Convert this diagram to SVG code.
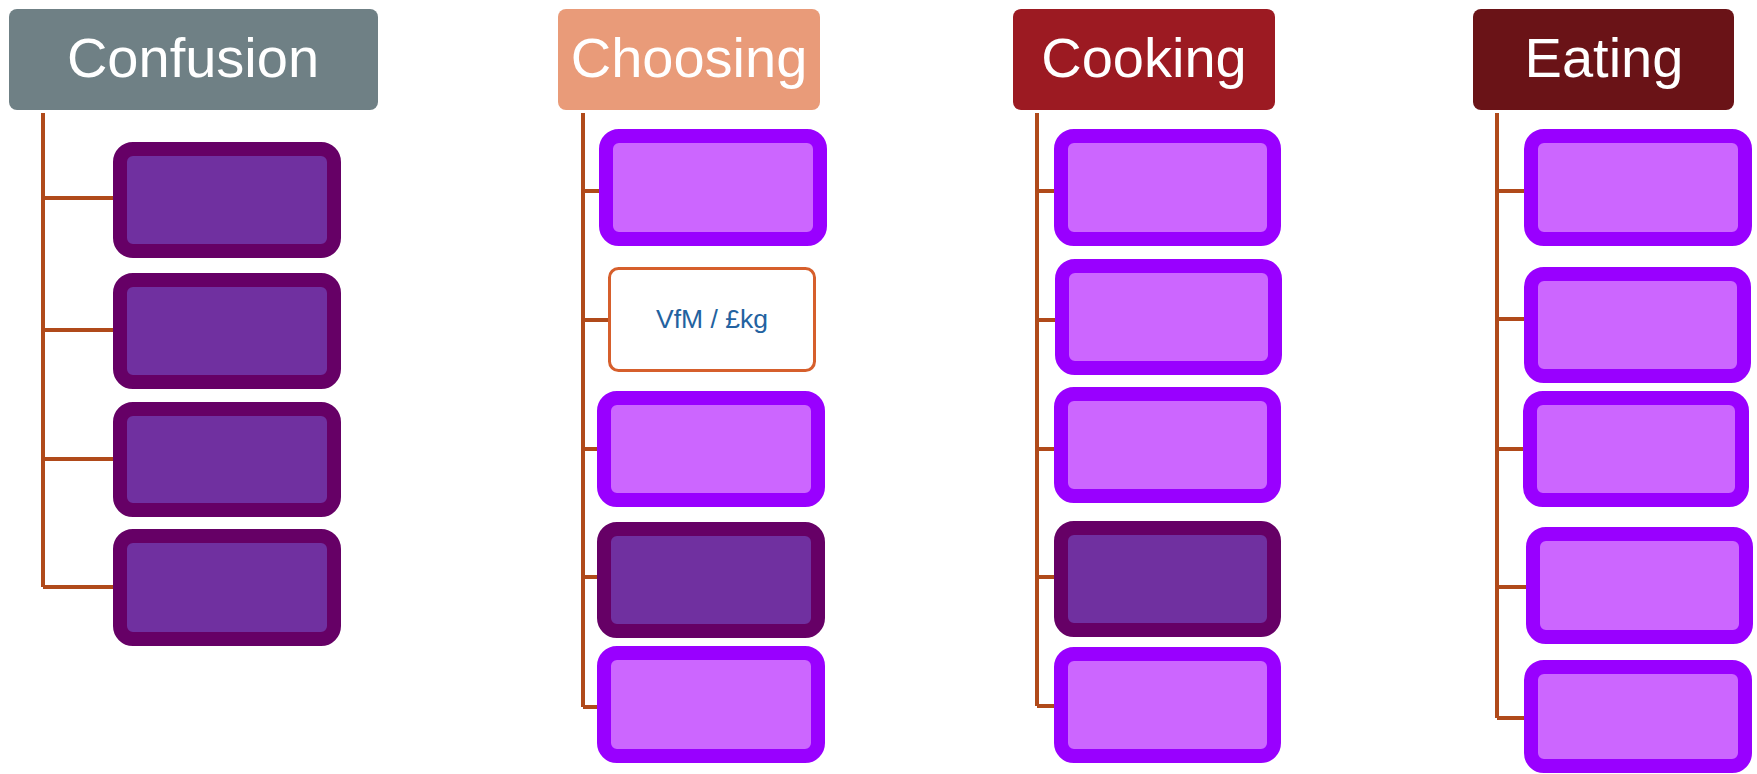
<svg xmlns="http://www.w3.org/2000/svg" width="1757" height="774" viewBox="0 0 1757 774">
<style>
.hdr-t{font-family:"Liberation Sans",Arial,sans-serif;font-size:56px;fill:#FFFFFF;text-anchor:middle}
.dark{fill:#7030A0;stroke:#660066;stroke-width:14}
.light{fill:#CC66FF;stroke:#9900FF;stroke-width:14}
.vfm{fill:#FFFFFF;stroke:#D65F2C;stroke-width:3}
.vfm-t{font-family:"Liberation Sans",Arial,sans-serif;font-size:26.5px;fill:#2362A0;text-anchor:middle}
.conn{stroke:#B04A1A;stroke-width:4;fill:none}
</style>
<rect width="1757" height="774" fill="#FFFFFF"/>
<g id="connectors">
<path class="conn" d="M43 113V587M43 198H113M43 330H113M43 459H113M43 587H113"/>
<path class="conn" d="M583 113V707M583 191H599M583 320H608M583 449H597M583 577H597M583 707H597"/>
<path class="conn" d="M1037 113V706M1037 191H1054M1037 320H1055M1037 449H1054M1037 577H1054M1037 706H1054"/>
<path class="conn" d="M1497 113V718M1497 191H1524M1497 319H1524M1497 449H1523M1497 587H1526M1497 718H1524"/>
</g>
<g id="hdr-confusion"><rect x="9" y="9" width="369" height="101" rx="8" fill="#6F8085"/><text class="hdr-t" x="193" y="77">Confusion</text></g>
<g id="hdr-choosing"><rect x="558" y="9" width="262" height="101" rx="8" fill="#E99B79"/><text class="hdr-t" x="689" y="77">Choosing</text></g>
<g id="hdr-cooking"><rect x="1013" y="9" width="262" height="101" rx="8" fill="#9C1A22"/><text class="hdr-t" x="1144" y="77">Cooking</text></g>
<g id="hdr-eating"><rect x="1473" y="9" width="261" height="101" rx="8" fill="#6A1317"/><text class="hdr-t" x="1604" y="77">Eating</text></g>

<g id="confusion-1"><rect class="dark" x="120" y="149" width="214" height="102" rx="13"/></g>
<g id="confusion-2"><rect class="dark" x="120" y="280" width="214" height="102" rx="13"/></g>
<g id="confusion-3"><rect class="dark" x="120" y="409" width="214" height="101" rx="13"/></g>
<g id="confusion-4"><rect class="dark" x="120" y="536" width="214" height="103" rx="13"/></g>

<g id="choosing-1"><rect class="light" x="606" y="136" width="214" height="103" rx="13"/></g>
<g id="choosing-vfm"><rect class="vfm" x="609.5" y="268.5" width="205" height="102" rx="9"/><text class="vfm-t" x="712" y="328">VfM / £kg</text></g>
<g id="choosing-3"><rect class="light" x="604" y="398" width="214" height="102" rx="13"/></g>
<g id="choosing-4"><rect class="dark" x="604" y="529" width="214" height="102" rx="13"/></g>
<g id="choosing-5"><rect class="light" x="604" y="653" width="214" height="103" rx="13"/></g>

<g id="cooking-1"><rect class="light" x="1061" y="136" width="213" height="103" rx="13"/></g>
<g id="cooking-2"><rect class="light" x="1062" y="266" width="213" height="102" rx="13"/></g>
<g id="cooking-3"><rect class="light" x="1061" y="394" width="213" height="102" rx="13"/></g>
<g id="cooking-4"><rect class="dark" x="1061" y="528" width="213" height="102" rx="13"/></g>
<g id="cooking-5"><rect class="light" x="1061" y="654" width="213" height="102" rx="13"/></g>

<g id="eating-1"><rect class="light" x="1531" y="136" width="214" height="103" rx="13"/></g>
<g id="eating-2"><rect class="light" x="1531" y="274" width="213" height="102" rx="13"/></g>
<g id="eating-3"><rect class="light" x="1530" y="398" width="212" height="102" rx="13"/></g>
<g id="eating-4"><rect class="light" x="1533" y="534" width="213" height="103" rx="13"/></g>
<g id="eating-5"><rect class="light" x="1531" y="667" width="214" height="99" rx="13"/></g>
</svg>
